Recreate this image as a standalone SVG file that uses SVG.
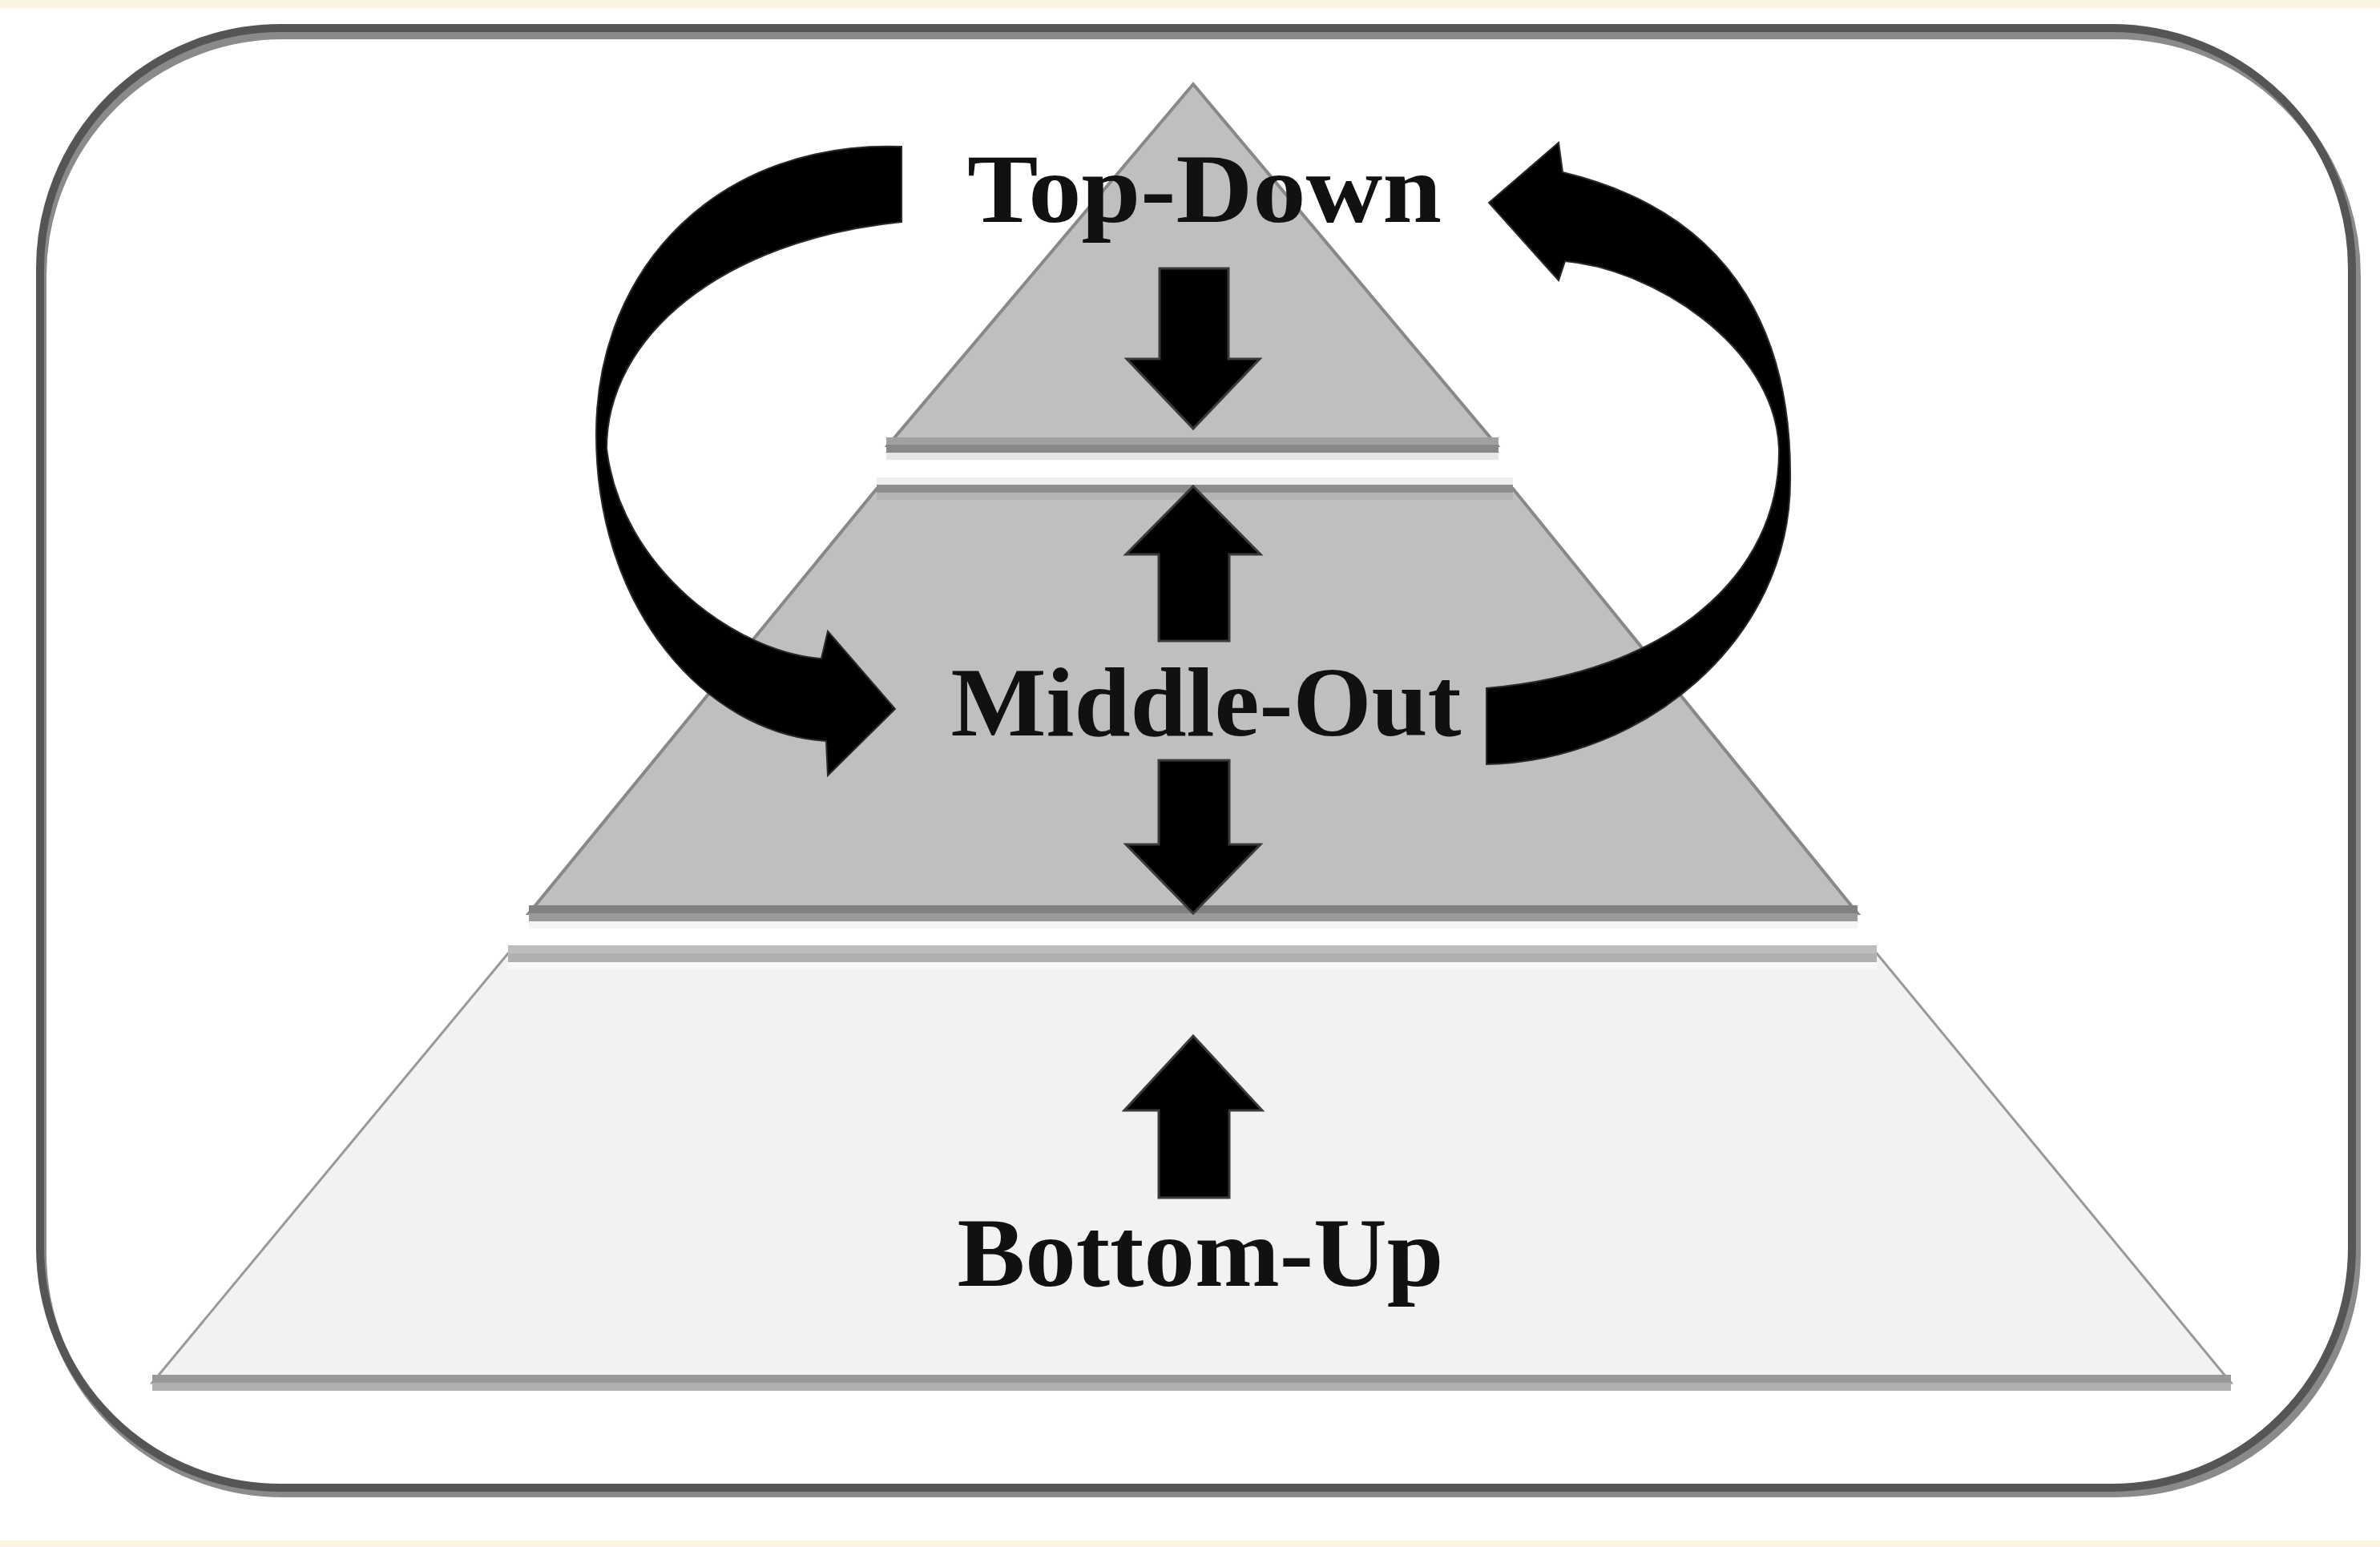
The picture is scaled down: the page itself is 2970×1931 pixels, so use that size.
<svg xmlns="http://www.w3.org/2000/svg" width="2970" height="1931" viewBox="0 0 2970 1931">
<style>
.lbl{font-family:"Liberation Serif","Times New Roman",serif;font-weight:bold;font-size:122px;fill:#111;text-anchor:middle}
.blk{fill:#000;stroke:#3a3a3a;stroke-width:3;stroke-linejoin:miter}
.curve{fill:#000;stroke:#2a2a2a;stroke-width:2}
</style>
<rect x="0" y="0" width="2970" height="1931" fill="#ffffff"/>
<rect x="0" y="0" width="2970" height="10" fill="#fcf4e2"/>
<rect x="0" y="1923" width="2970" height="8" fill="#fcf4e2"/>
<g id="frame">
<rect x="53" y="44" width="2888" height="1820" rx="300" ry="300" fill="none" stroke="#8a8a8a" stroke-width="10"/>
<rect x="50" y="35" width="2885" height="1822" rx="300" ry="300" fill="none" stroke="#555555" stroke-width="10"/>
</g>
<g id="layer-bottom">
<polygon points="634,1190 2342,1190 2784,1726 190,1726" fill="#f2f2f2" stroke="#999999" stroke-width="3"/>
<rect x="634" y="1180" width="1708" height="10" fill="#bdbdbd"/>
<rect x="634" y="1190" width="1708" height="11" fill="#b0b0b0"/>
<rect x="634" y="1201" width="1708" height="9" fill="#f8f8f8"/>
<rect x="190" y="1716" width="2594" height="10" fill="#999999"/>
<rect x="190" y="1726" width="2594" height="10" fill="#b0b0b0"/>
<text class="lbl" x="1498" y="1605" textLength="607" lengthAdjust="spacingAndGlyphs">Bottom-Up</text>
</g>
<g id="layer-middle">
<polygon points="1094,610 1888,610 2318,1140 660,1140" fill="#bfbfbf" stroke="#888888" stroke-width="4"/>
<rect x="1094" y="596" width="794" height="9" fill="#eeeeee"/>
<rect x="1094" y="605" width="794" height="10" fill="#8c8c8c"/>
<rect x="1094" y="615" width="794" height="9" fill="#b4b4b4"/>
<rect x="660" y="1130" width="1658" height="10" fill="#808080"/>
<rect x="660" y="1140" width="1658" height="10" fill="#9a9a9a"/>
<rect x="660" y="1150" width="1658" height="9" fill="#f5f5f5"/>
<text class="lbl" x="1505" y="918" textLength="637" lengthAdjust="spacingAndGlyphs">Middle-Out</text>
</g>
<g id="layer-top">
<polygon points="1489,105 1868,556 1108,556" fill="#bfbfbf" stroke="#888888" stroke-width="4"/>
<rect x="1106" y="546" width="764" height="9" fill="#a0a0a0"/>
<rect x="1106" y="555" width="764" height="10" fill="#888888"/>
<rect x="1106" y="565" width="764" height="9" fill="#e6e6e6"/>
<text class="lbl" x="1503" y="277" textLength="592" lengthAdjust="spacingAndGlyphs">Top-Down</text>
</g>
<g id="connectors">
<path class="blk" d="M1447 335 H1533 V448 H1572 L1489 535 L1406 448 H1447 Z"/>
<path class="blk" d="M1489 607 L1573 692 H1534 V800 H1446 V692 H1405 Z"/>
<path class="blk" d="M1446 949 H1534 V1054 H1573 L1489 1140 L1405 1054 H1446 Z"/>
<path class="blk" d="M1489 1293 L1575 1386 H1534 V1495 H1446 V1386 H1403 Z"/>
<path class="curve" d="M1125 183 C900 175 745 330 744 540 C743 760 880 915 1031 925 L1033 968 L1117 885 L1033 788 L1025 822 C920 815 775 710 757 560 C757 420 900 300 1125 277 Z"/>
<path class="curve" d="M1855 954 C2050 950 2234 800 2234 600 C2236 440 2180 270 1950 215 L1945 178 L1858 253 L1945 350 L1953 326 C2060 335 2215 430 2220 560 C2222 720 2080 840 1855 859 Z"/>
</g>
</svg>
